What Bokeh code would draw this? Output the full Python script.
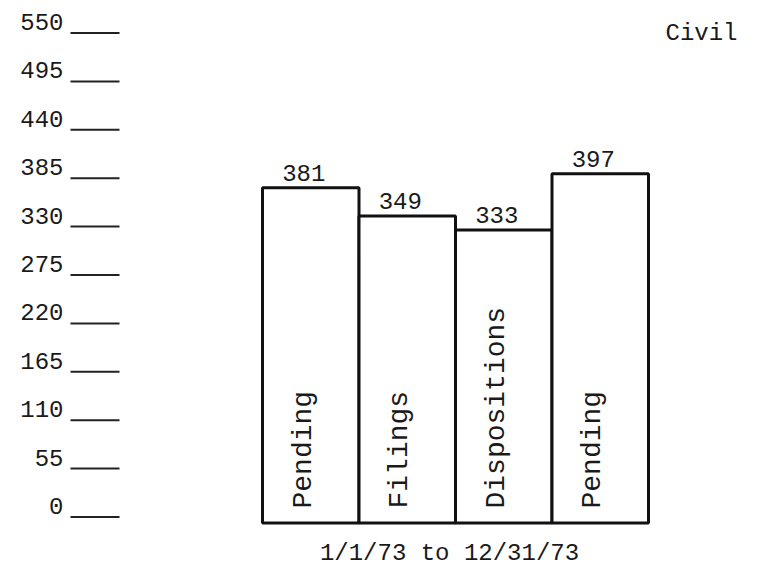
import math
from bokeh.plotting import figure
from bokeh.models import ColumnDataSource, Range1d
from bokeh.core.properties import value
from bokeh.embed import file_html
from bokeh.resources import INLINE

# ---- data ----
categories = ["Pending", "Filings", "Dispositions", "Pending"]
counts = [381, 349, 333, 397]
tick_values = [0, 55, 110, 165, 220, 275, 330, 385, 440, 495, 550]
tick_labels = ["0", "55", "110", "165", "220", "275", "330", "385", "440", "495", "550"]
chart_title = "Civil"
period_label = "1/1/73 to 12/31/73"

# ---- layout ----
W, H = 760, 581
PX_X = 96.5          # pixels per bar slot
PX_Y = 0.88          # pixels per case
bar0_center_px = 310.25
zero_bars_px = 522.5
zero_axis_px = 516.5

x_start = -bar0_center_px / PX_X
x_end = x_start + W / PX_X
y_end = zero_bars_px / PX_Y
y_start = y_end - H / PX_Y
ay_end = zero_axis_px / PX_Y
ay_start = ay_end - H / PX_Y


def fx(px):
    return x_start + px / PX_X


def fy(py):
    return y_end - py / PX_Y


FONT = value("Liberation Mono")
INK = "#1a1a1a"

p = figure(width=W, height=H,
           x_range=Range1d(x_start, x_end), y_range=Range1d(y_start, y_end),
           x_axis_type=None, y_axis_type=None,
           toolbar_location=None, output_backend="svg",
           min_border=0, outline_line_color=None,
           background_fill_color="white", border_fill_color="white")
p.extra_y_ranges = {"axis": Range1d(ay_start, ay_end)}

src = ColumnDataSource(dict(
    x=list(range(len(counts))),
    top=counts,
    cat=categories,
    lbl=[str(c) for c in counts],
))

p.vbar(x="x", top="top", bottom=0, width=1, source=src,
       fill_color="white", line_color="#111111", line_width=3)

# value labels above bars
p.text(x="x", y="top", text="lbl", source=src,
       text_font=FONT, text_font_size="24px", text_color=INK,
       text_align="center", text_baseline="middle",
       x_offset=-7, y_offset=-15)

# rotated category labels inside bars
p.text(x="x", y=0, text="cat", source=src, angle=math.pi / 2,
       text_font=FONT, text_font_size="28px", text_color=INK,
       text_align="left", text_baseline="middle",
       x_offset=-7.5, y_offset=-14.5)

# typed axis: numbers with underline ticks
tsrc = ColumnDataSource(dict(y=tick_values, lbl=tick_labels))
p.segment(x0=fx(70), x1=fx(119), y0="y", y1="y", source=tsrc,
          y_range_name="axis", line_width=2, line_color="#222222")
p.text(x=fx(63), y="y", text="lbl", source=tsrc, y_range_name="axis",
       text_font=FONT, text_font_size="24px", text_color=INK,
       text_align="right", text_baseline="middle", y_offset=-11)

# title and period
p.text(x=[fx(665)], y=[fy(33)], text=[chart_title],
       text_font=FONT, text_font_size="24px", text_color=INK,
       text_align="left", text_baseline="middle")
p.text(x=[(len(counts) - 1) / 2], y=[0], text=[period_label],
       text_font=FONT, text_font_size="24px", text_color=INK,
       text_align="center", text_baseline="middle",
       x_offset=-6, y_offset=30)

open("out.html", "w").write(file_html(p, INLINE))
